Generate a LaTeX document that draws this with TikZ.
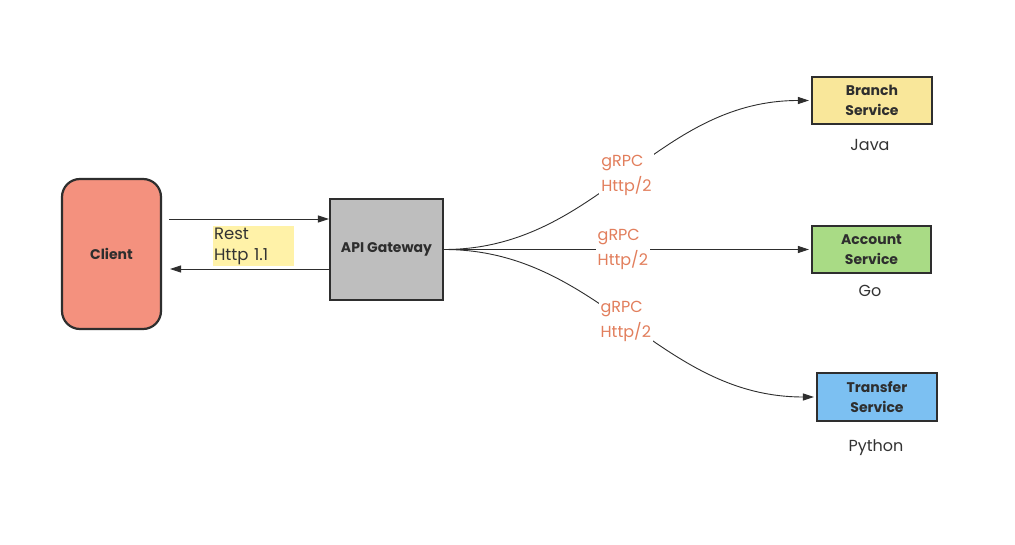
\documentclass[tikz,border=0pt]{standalone}
\usepackage{fontspec}
\setmainfont{Poppins}
\usetikzlibrary{arrows.meta}
\definecolor{clientfill}{HTML}{F4917E}
\definecolor{gwfill}{HTML}{BEBEBE}
\definecolor{branchfill}{HTML}{F9E79A}
\definecolor{accountfill}{HTML}{A9DB85}
\definecolor{transferfill}{HTML}{7CC0F2}
\definecolor{hl}{HTML}{FFF2A8}
\definecolor{edge}{HTML}{2E2E2E}
\definecolor{lbl}{HTML}{E27E5C}
\definecolor{txt}{HTML}{333333}
\begin{document}
\begin{tikzpicture}[x=1pt,y=-1pt,
  box/.style={draw=edge, line width=2.2pt, text=edge, align=center, inner sep=0pt,
    font=\fontsize{14}{20}\selectfont\bfseries},
  lang/.style={text=txt, font=\fontsize{16}{20}\selectfont},
  proto/.style={fill=white, text=lbl, align=left, inner sep=2pt,
    font=\fontsize{16}{25}\selectfont},
  conn/.style={draw=edge, line width=0.9pt, -{Triangle[length=11pt,width=7pt]}},
]
\fill[white] (0,0) rectangle (1015,545);
\useasboundingbox (0,0) rectangle (1015,545);

\node[box, fill=clientfill, rounded corners=18pt, minimum width=99pt, minimum height=150pt] (client) at (111.5,254) {Client};
\node[box, fill=gwfill, minimum width=113pt, minimum height=101pt] (gw) at (386.5,249.5) {API Gateway};
\node[box, fill=branchfill, minimum width=120pt, minimum height=47pt] (branch) at (872,100.5) {Branch\\Service};
\node[box, fill=accountfill, minimum width=119pt, minimum height=47pt] (account) at (871.5,249.5) {Account\\Service};
\node[box, fill=transferfill, minimum width=120pt, minimum height=48pt] (transfer) at (877,397) {Transfer\\Service};

\node[lang] (java) at (870,145) {Java};
\node[lang] (go) at (870,291) {Go};
\node[lang] (python) at (876,448) {Python};

\coordinate (c1) at (169,219);
\coordinate (c2) at (170,269);
\draw[conn] (c1) -- (c1 -| gw.west);
\draw[conn] (c2 -| gw.west) -- (c2);
\node[fill=hl, text=txt, align=left, inner xsep=1pt, inner ysep=2pt, text width=79pt,
  font=\fontsize{16.5}{21}\selectfont] (rest) at (253.5,246) {Rest\\Http 1.1};

\draw[conn] (gw.east) to[out=0,in=180] node[proto, pos=0.5] (l1) {gRPC\\Http/2} ([xshift=-2pt]branch.west);
\draw[conn] (gw.east) -- node[proto, pos=0.49] (l2) {gRPC\\Http/2} ([xshift=-2pt]account.west);
\draw[conn] (gw.east) to[out=0,in=180] node[proto, pos=0.49] (l3) {gRPC\\Http/2} ([xshift=-2pt]transfer.west);
\end{tikzpicture}
\end{document}
